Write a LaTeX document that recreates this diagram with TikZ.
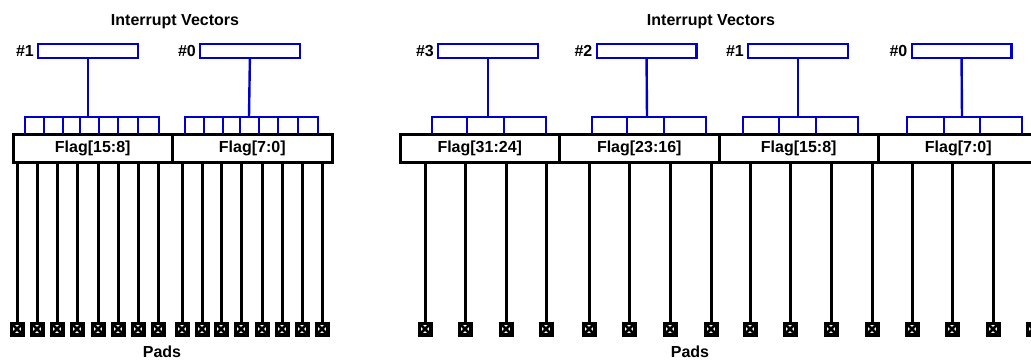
\documentclass[tikz,border=0pt]{standalone}
\usepackage{fontspec}
\setmainfont{Liberation Sans}
\usepackage{xcolor}
\definecolor{vecBlue}{RGB}{0, 0, 204}
\usepackage{tikz}
\usetikzlibrary{positioning}
\newcommand{\lblfont}{\fontsize{16}{18}\selectfont\bfseries}

\begin{document}
\begin{tikzpicture}[x=1pt, y=-1pt,
  vec/.style={draw=vecBlue, line width=2.4pt, minimum width=99.6pt,
              minimum height=13.6pt, inner sep=0pt},
  flag/.style={draw, line width=3pt, minimum width=159.5pt,
               minimum height=28pt, inner sep=0pt, outer sep=0pt, font=\lblfont},
  pad/.style={draw, fill=white, line width=3.4pt, minimum size=11.6pt, inner sep=0pt,
              path picture={\draw[line width=2.6pt]
                (path picture bounding box.south west) -- (path picture bounding box.north east)
                (path picture bounding box.north west) -- (path picture bounding box.south east);}},
  lbl/.style={font=\lblfont, inner sep=0pt},
  bus/.style={vecBlue, line width=2.4pt},
  wire/.style={line width=3pt}
]
\useasboundingbox (0,0) rectangle (1031,360);
\clip (0,0) rectangle (1031,360);

%% ── 16 flags, two vectors ─────────────────────────────────────
\node[lbl, anchor=base] (titleL) at (175,25) {Interrupt Vectors};
\node[vec] (vL1) at (88,51)  {};
\node[vec] (vL0) at (250,51) {};
\node[lbl, left=3pt of vL1] (hL1) {\#1};
\node[lbl, left=3pt of vL0] (hL0) {\#0};

\node[flag, anchor=west] (fL1) at (13,148.5) {Flag[15:8]};
\node[flag, anchor=west] (fL0) at (fL1.east) {Flag[7:0]};

\coordinate (cL1) at (88,117);
\coordinate (cL0) at (249,117);
\draw[bus] (vL1) -- (cL1);
\draw[bus] (vL0) -- (cL0);
\draw[bus] (25,134) -- (25,117) -- (159,117) -- (159,134);
\draw[bus] (185,134) -- (185,117) -- (318,117) -- (318,134);
\foreach \x in {44,63,80,99,118,138,204,223,240,259,278,298}
  \draw[bus] (\x,117) -- (\x,134);

\foreach \x [count=\i] in {17,37,57,77,98,118,138,158,182,202,221,241,262,282,302,322} {
  \node[pad] (pL\i) at (\x,329) {};
  \draw[wire] (pL\i.north |- fL1.south) -- (pL\i.north);
}
\node[lbl, anchor=base] (padsL) at (162,357) {Pads};

%% ── 32 flags, four vectors ────────────────────────────────────
\node[lbl, anchor=base] (titleR) at (711,25) {Interrupt Vectors};
\node[vec] (vR3) at (488,51)   {};
\node[vec] (vR2) at (646.5,51) {};
\node[vec] (vR1) at (798,51)   {};
\node[vec] (vR0) at (961.5,51) {};
\node[lbl, left=3pt of vR3] (hR3) {\#3};
\node[lbl, left=3pt of vR2] (hR2) {\#2};
\node[lbl, left=3pt of vR1] (hR1) {\#1};
\node[lbl, left=3pt of vR0] (hR0) {\#0};

\node[flag, anchor=west] (fR3) at (400,148.5) {Flag[31:24]};
\node[flag, anchor=west] (fR2) at (fR3.east) {Flag[23:16]};
\node[flag, anchor=west] (fR1) at (fR2.east) {Flag[15:8]};
\node[flag, anchor=west] (fR0) at (fR1.east) {Flag[7:0]};

\coordinate (cR3) at (488,117);
\coordinate (cR2) at (647,117);
\coordinate (cR1) at (798,117);
\coordinate (cR0) at (962,117);
\draw[bus] (vR3) -- (cR3);
\draw[bus] (vR2) -- (cR2);
\draw[bus] (vR1) -- (cR1);
\draw[bus] (vR0) -- (cR0);
\draw[bus] (432,134) -- (432,117) -- (546,117) -- (546,134);
\draw[bus] (592,134) -- (592,117) -- (706,117) -- (706,134);
\draw[bus] (743,134) -- (743,117) -- (858,117) -- (858,134);
\draw[bus] (907,134) -- (907,117) -- (1022,117) -- (1022,134);
\foreach \x in {467,504,627,664,779,816,944,980}
  \draw[bus] (\x,117) -- (\x,134);

\foreach \x [count=\i] in {425,465,506,546,589,629,670,711,750,790,831,872,912,952,993,1033} {
  \node[pad] (pR\i) at (\x,329) {};
  \draw[wire] (pR\i.north |- fR3.south) -- (pR\i.north);
}
\node[lbl, anchor=base] (padsR) at (690,357) {Pads};
\end{tikzpicture}
\end{document}
